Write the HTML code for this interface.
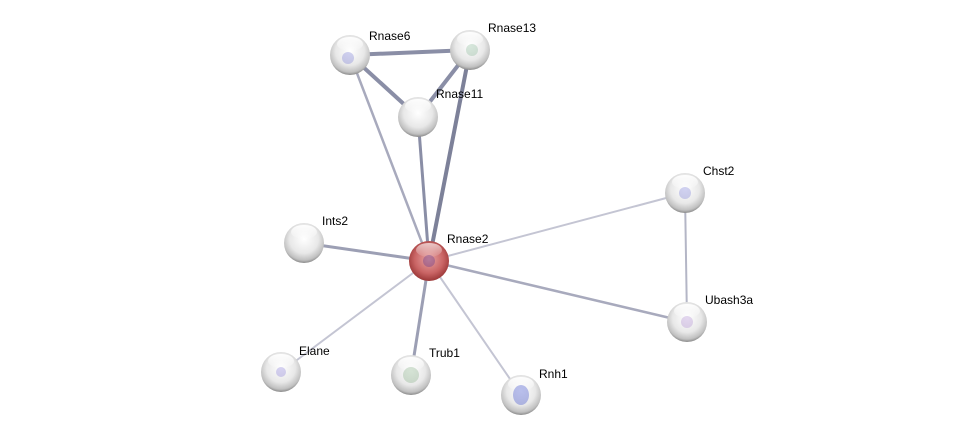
<!DOCTYPE html>
<html><head><style>body{margin:0;background:#fff}svg{display:block}</style></head><body>
<svg width="975" height="441" xmlns="http://www.w3.org/2000/svg" font-family="Liberation Sans, sans-serif" font-size="12">
<defs>
<radialGradient id="g" cx="50%" cy="40%" r="60%">
<stop offset="0" stop-color="#ffffff"/><stop offset="0.6" stop-color="#e8e8e8"/><stop offset="0.88" stop-color="#c0c0c0"/><stop offset="1" stop-color="#8a8a8a"/>
</radialGradient>
<radialGradient id="r" cx="50%" cy="45%" r="60%">
<stop offset="0" stop-color="#e8a4a4"/><stop offset="0.6" stop-color="#c96464"/><stop offset="0.9" stop-color="#9e3a3a"/><stop offset="1" stop-color="#6e2222"/>
</radialGradient>
<linearGradient id="hl" x1="0" y1="0" x2="0" y2="1"><stop offset="0" stop-color="#fff" stop-opacity="0.95"/><stop offset="1" stop-color="#fff" stop-opacity="0.1"/></linearGradient>
</defs>
<g stroke-linecap="round">
<line x1="350" y1="55" x2="470" y2="50" stroke="#8a8ea6" stroke-width="4"/>
<line x1="350" y1="55" x2="418" y2="117" stroke="#8a8ea6" stroke-width="4"/>
<line x1="470" y1="50" x2="418" y2="117" stroke="#8a8ea6" stroke-width="4"/>
<line x1="470" y1="50" x2="429" y2="261" stroke="#7d8199" stroke-width="4"/>
<line x1="418" y1="117" x2="429" y2="261" stroke="#8a8ea6" stroke-width="3"/>
<line x1="350" y1="55" x2="429" y2="261" stroke="#a8aabd" stroke-width="2.5"/>
<line x1="304" y1="243" x2="429" y2="261" stroke="#9c9fb4" stroke-width="3"/>
<line x1="685" y1="193" x2="429" y2="261" stroke="#c4c5d3" stroke-width="2"/>
<line x1="685" y1="193" x2="687" y2="322" stroke="#b4b6c6" stroke-width="2"/>
<line x1="687" y1="322" x2="429" y2="261" stroke="#a8aabd" stroke-width="2.5"/>
<line x1="281" y1="372" x2="429" y2="261" stroke="#c4c5d3" stroke-width="2"/>
<line x1="411" y1="375" x2="429" y2="261" stroke="#9c9fb4" stroke-width="3"/>
<line x1="521" y1="395" x2="429" y2="261" stroke="#c4c5d3" stroke-width="2"/>
</g>
<g>
<g transform="translate(350,55)"><circle r="20" fill="url(#g)"/><ellipse cy="-11" rx="13" ry="7" fill="url(#hl)"/><circle r="6" cx="-2" cy="3" fill="#7b7fd6" opacity="0.35"/></g>
<g transform="translate(470,50)"><circle r="20" fill="url(#g)"/><ellipse cy="-11" rx="13" ry="7" fill="url(#hl)"/><circle r="6" cx="2" fill="#7bb08a" opacity="0.3"/></g>
<g transform="translate(418,117)"><circle r="20" fill="url(#g)"/><ellipse cy="-11" rx="13" ry="7" fill="url(#hl)"/></g>
<g transform="translate(685,193)"><circle r="20" fill="url(#g)"/><ellipse cy="-11" rx="13" ry="7" fill="url(#hl)"/><circle r="6" fill="#7b7fd6" opacity="0.35"/></g>
<g transform="translate(304,243)"><circle r="20" fill="url(#g)"/><ellipse cy="-11" rx="13" ry="7" fill="url(#hl)"/></g>
<g transform="translate(429,261)"><circle r="20" fill="url(#r)"/><ellipse cy="-11" rx="13" ry="7" fill="url(#hl)" opacity="0.7"/><circle r="6" fill="#6a3c8c" opacity="0.4"/></g>
<g transform="translate(687,322)"><circle r="20" fill="url(#g)"/><ellipse cy="-11" rx="13" ry="7" fill="url(#hl)"/><circle r="6" fill="#b08bd0" opacity="0.35"/></g>
<g transform="translate(281,372)"><circle r="20" fill="url(#g)"/><ellipse cy="-11" rx="13" ry="7" fill="url(#hl)"/><circle r="5" fill="#8a7fd6" opacity="0.35"/></g>
<g transform="translate(411,375)"><circle r="20" fill="url(#g)"/><ellipse cy="-11" rx="13" ry="7" fill="url(#hl)"/><circle r="8" fill="#88b088" opacity="0.35"/></g>
<g transform="translate(521,395)"><circle r="20" fill="url(#g)"/><ellipse cy="-11" rx="13" ry="7" fill="url(#hl)"/><ellipse rx="8" ry="10" fill="#5060d0" opacity="0.4"/></g>
</g>
<g fill="#000">
<text x="369" y="40">Rnase6</text>
<text x="488" y="32">Rnase13</text>
<text x="436" y="98">Rnase11</text>
<text x="703" y="175">Chst2</text>
<text x="322" y="225">Ints2</text>
<text x="447" y="243">Rnase2</text>
<text x="705" y="304">Ubash3a</text>
<text x="299" y="355">Elane</text>
<text x="429" y="357">Trub1</text>
<text x="539" y="378">Rnh1</text>
</g>
</svg>
</body></html>
